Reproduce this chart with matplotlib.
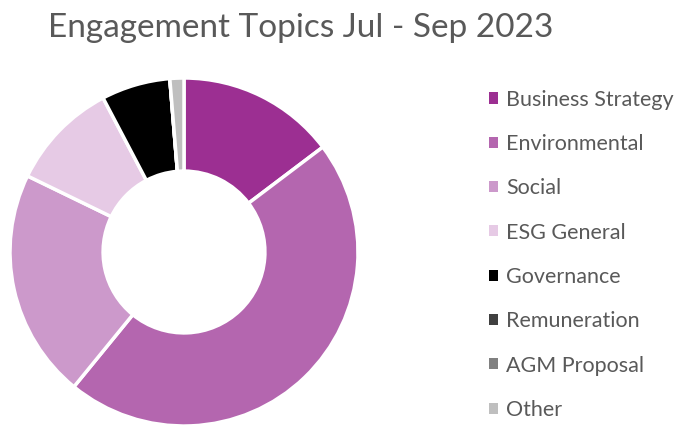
import matplotlib.pyplot as plt
from matplotlib.patches import Patch

topics = ['Business Strategy', 'Environmental', 'Social', 'ESG General',
          'Governance', 'Remuneration', 'AGM Proposal', 'Other']
shares = [14.7, 46.2, 21.3, 10.1, 6.4, 0.0, 0.0, 1.3]
colors = ['#9C2F92', '#B466AF', '#CC99CB', '#E6CAE5',
          '#000000', '#404040', '#808080', '#BFBFBF']

plt.rcParams['font.family'] = ['Lato', 'DejaVu Sans']

fig = plt.figure(figsize=(6.78, 4.25), dpi=100)

# donut: centre at ~(184, 252) px, radius ~174 px
ax = fig.add_axes([10 / 678, -1 / 425, 348 / 678, 348 / 425])
ax.pie(shares, colors=colors, startangle=90, counterclock=False,
       radius=1.0,
       wedgeprops=dict(width=0.535, edgecolor='white', linewidth=2.5))
ax.set_xlim(-1.0, 1.0)
ax.set_ylim(-1.0, 1.0)
ax.set_aspect('equal')
ax.axis('off')

fig.text(48 / 678, 1 - 28 / 425, 'Engagement Topics Jul - Sep 2023',
         fontsize=24, color='#595959', va='center', ha='left')

handles = [Patch(facecolor=c, edgecolor='none') for c in colors]
fig.legend(handles, topics, loc='upper left',
           bbox_to_anchor=(480 / 678, 1 - 81 / 425),
           frameon=False, fontsize=15.5, labelcolor='#595959',
           handlelength=0.42, handleheight=0.42, handletextpad=0.4,
           labelspacing=1.13, borderaxespad=0)

fig.savefig('out.png', dpi=100)
